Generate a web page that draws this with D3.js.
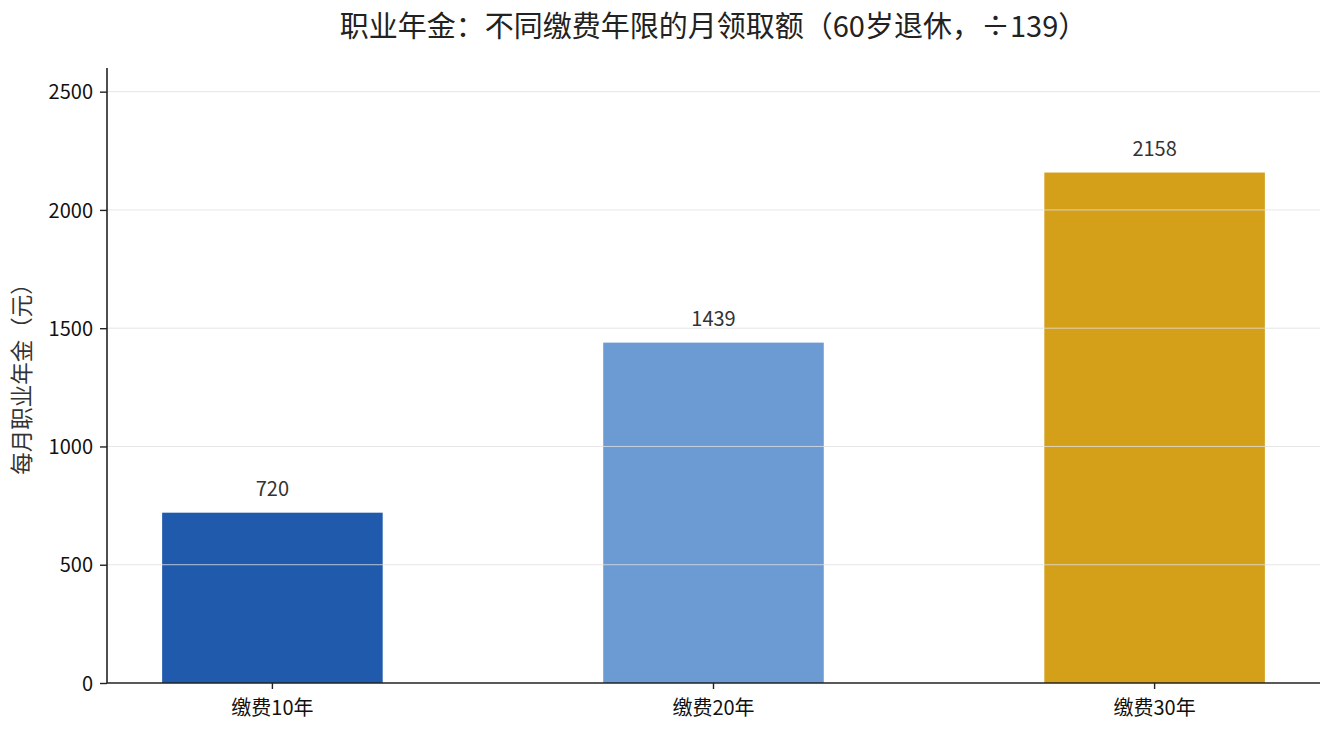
<!DOCTYPE html>
<html>
<head>
<meta charset="utf-8">
<script src="https://cdn.jsdelivr.net/npm/d3@7"></script>
<style>
  body { margin: 0; background: #fff; }
  text { font-family: "Noto Sans CJK SC", "Noto Sans", sans-serif; }
</style>
</head>
<body>
<svg id="chart"></svg>
<script>
const categories = ['缴费10年', '缴费20年', '缴费30年']
const values = [720, 1439, 2158]
const barColors = ['#1f5aad', '#6c9bd3', '#d4a01a']
const yTicks = [0, 500, 1000, 1500, 2000, 2500]
const yMax = 2600
const title = '职业年金：不同缴费年限的月领取额（60岁退休，÷139）'
const yLabel = '每月职业年金（元）'

const width = 1335
const height = 735
const margin = { top: 68, right: 15, bottom: 52, left: 107 }
const plotW = width - margin.left - margin.right
const plotH = height - margin.top - margin.bottom

const svg = d3.select('#chart')
  .attr('width', width)
  .attr('height', height)

const x = d3.scaleBand()
  .domain(categories)
  .range([0, plotW])
  .paddingInner(0.5)
  .paddingOuter(0.125)

const y = d3.scaleLinear()
  .domain([0, yMax])
  .range([plotH, 0])

const g = svg.append('g')
  .attr('transform', `translate(${margin.left}, ${margin.top})`)

// bars
g.selectAll('rect.bar')
  .data(values)
  .join('rect')
  .classed('bar', true)
  .attr('x', (_, i) => x(categories[i]))
  .attr('y', d => y(d))
  .attr('width', x.bandwidth())
  .attr('height', d => plotH - y(d))
  .attr('fill', (_, i) => barColors[i])

// grid lines on top of the bars
g.selectAll('line.grid')
  .data(yTicks.filter(t => t > 0))
  .join('line')
  .classed('grid', true)
  .attr('x1', 0)
  .attr('x2', plotW)
  .attr('y1', d => y(d))
  .attr('y2', d => y(d))
  .attr('stroke', '#e0e0e0')
  .attr('stroke-opacity', 0.8)
  .attr('stroke-width', 1)

// value labels
g.selectAll('text.val')
  .data(values)
  .join('text')
  .classed('val', true)
  .attr('x', (_, i) => x(categories[i]) + x.bandwidth() / 2)
  .attr('y', d => y(d) - 17)
  .attr('text-anchor', 'middle')
  .attr('font-size', '20px')
  .attr('fill', '#333')
  .text(d => d)

// axes
const yAxis = g.append('g')
  .call(d3.axisLeft(y).tickValues(yTicks).tickFormat(d3.format('d')).tickSize(7).tickPadding(7))
const xAxis = g.append('g')
  .attr('transform', `translate(0, ${plotH})`)
  .call(d3.axisBottom(x).tickSize(6).tickPadding(7))

yAxis.select('.domain').attr('d', `M0,0V${plotH}`)
xAxis.select('.domain').attr('d', `M0,0H${plotW}`)

;[yAxis, xAxis].forEach(a => {
  a.select('.domain').attr('stroke', '#222').attr('stroke-width', 1.6)
  a.selectAll('.tick line').attr('stroke', '#222').attr('stroke-width', 1.4)
  a.selectAll('.tick text')
    .attr('font-size', '20px')
    .attr('fill', '#111')
    .attr('font-family', '"Noto Sans CJK SC", sans-serif')
})
yAxis.selectAll('.tick text').attr('dy', '0.36em')
xAxis.selectAll('.tick text').attr('dy', '0.95em')

// y label
svg.append('text')
  .attr('transform', `translate(30, ${margin.top + plotH / 2 - 2}) rotate(-90)`)
  .attr('text-anchor', 'middle')
  .attr('font-size', '22.5px')
  .attr('fill', '#333')
  .text(yLabel)

// title
svg.append('text')
  .attr('x', margin.left + plotW / 2)
  .attr('y', 37)
  .attr('text-anchor', 'middle')
  .attr('font-size', '29px')
  .attr('fill', '#222')
  .text(title)
</script>
</body>
</html>
